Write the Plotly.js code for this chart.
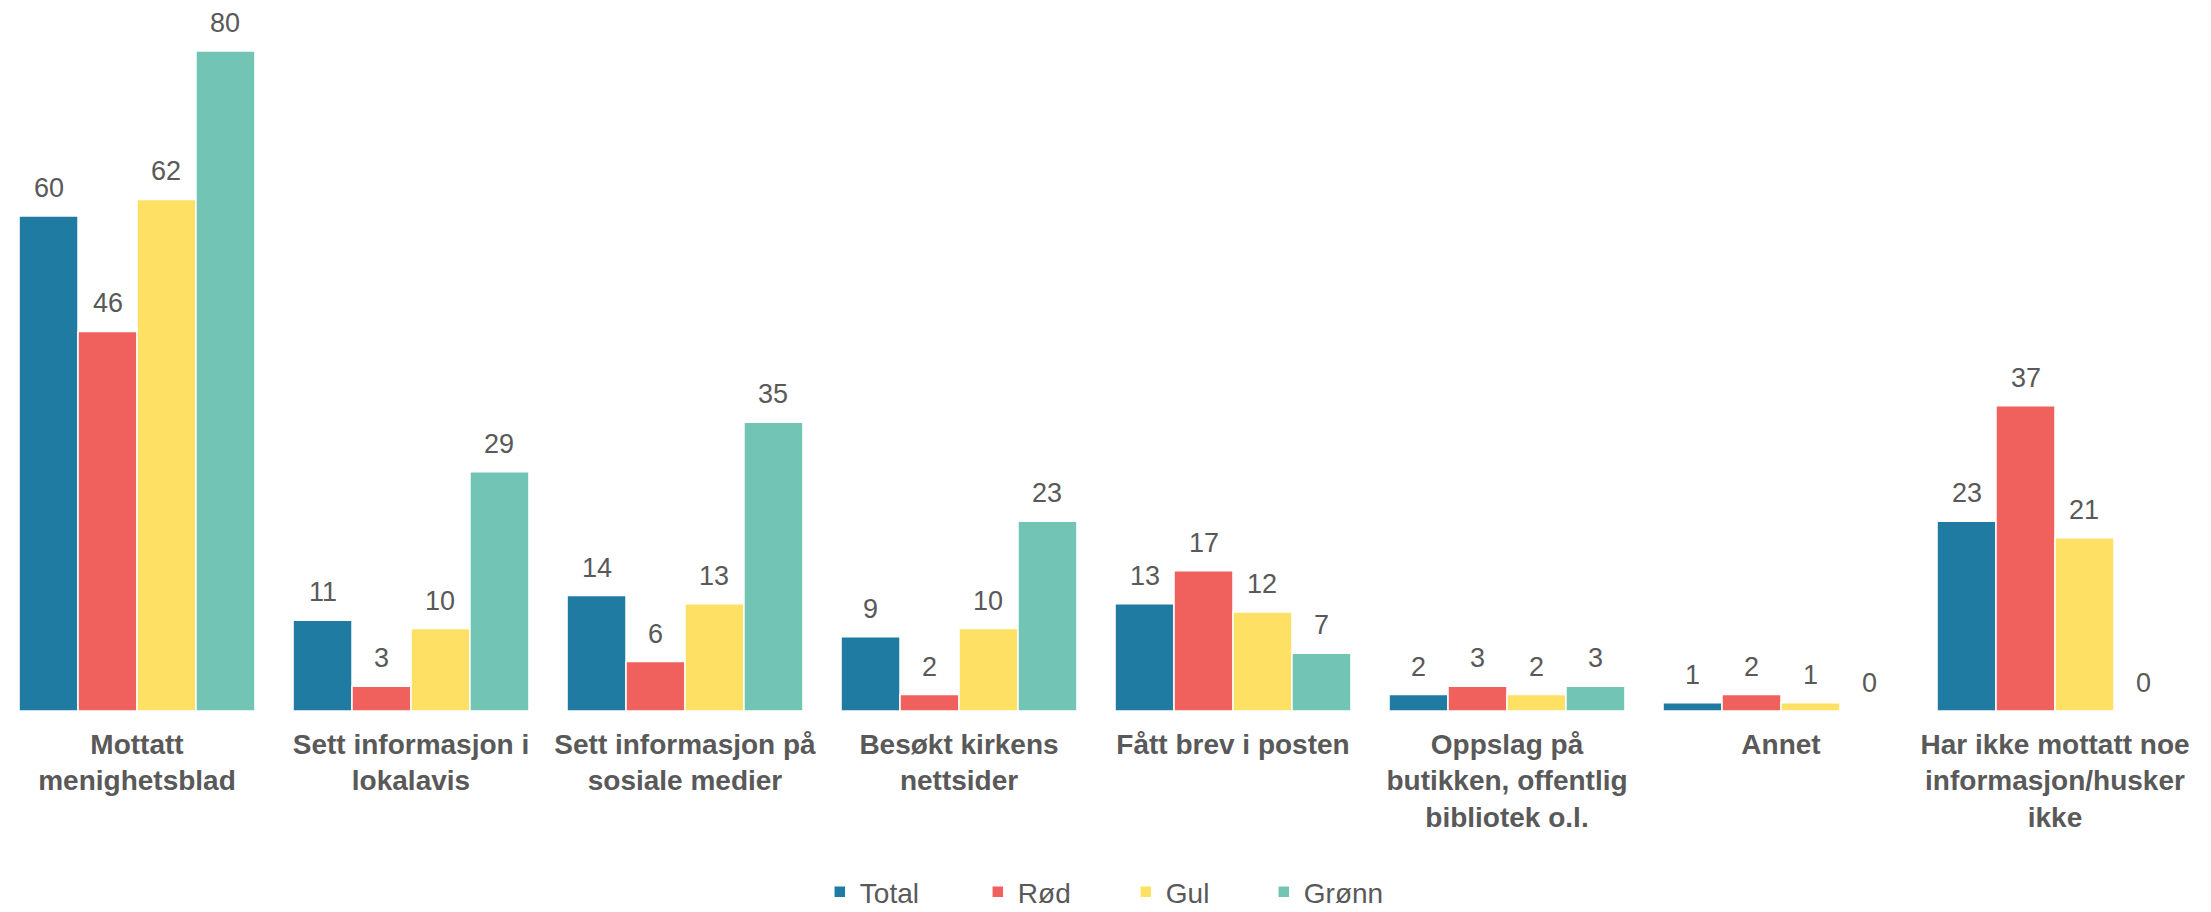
<!DOCTYPE html>
<html><head><meta charset="utf-8">
<script src="https://cdn.plot.ly/plotly-3.0.1.min.js"></script>
<style>html,body{margin:0;padding:0;background:#fff;}#chart{width:2211px;height:912px;}</style>
</head><body><div id="chart"></div>
<script>
const categories = [
  "Mottatt<br>menighetsblad",
  "Sett informasjon i<br>lokalavis",
  "Sett informasjon på<br>sosiale medier",
  "Besøkt kirkens<br>nettsider",
  "Fått brev i posten",
  "Oppslag på<br>butikken, offentlig<br>bibliotek o.l.",
  "Annet",
  "Har ikke mottatt noe<br>informasjon/husker<br>ikke"
];
const seriesNames = ["Total", "Rød", "Gul", "Grønn"];
const total = [60, 11, 14, 9, 13, 2, 1, 23];
const rod   = [46, 3, 6, 2, 17, 3, 2, 37];
const gul   = [62, 10, 13, 10, 12, 2, 1, 21];
const gronn = [80, 29, 35, 23, 7, 3, 0, 0];
const colors = ["#1F7BA1", "#F0605C", "#FDE064", "#72C4B4"];
const legendWidths = [113, 103, 93, 90];

const values = [total, rod, gul, gronn];
const BARGAP = 0.139;
const nSeries = values.length;
const slot = (1 - BARGAP) / nSeries;

const traces = values.map((v, i) => ({
  type: "bar",
  name: seriesNames[i],
  x: categories.map((c, j) => j),
  y: v,
  marker: {color: colors[i], line: {color: "#ffffff", width: 1.5}},
  legendwidth: legendWidths[i],
  hoverinfo: "none"
}));

const annotations = [];
values.forEach((v, i) => {
  v.forEach((val, j) => {
    annotations.push({
      x: j - (1 - BARGAP) / 2 + (i + 0.5) * slot,
      y: val,
      xref: "x", yref: "y",
      text: String(val),
      showarrow: false,
      xanchor: "center", yanchor: "bottom",
      yshift: 11,
      font: {family: "Liberation Sans, Arial, sans-serif", size: 27, color: "#595959"}
    });
  });
});

const layout = {
  width: 2211, height: 912,
  margin: {l: 0, r: 19, t: 0, b: 201, autoexpand: false},
  paper_bgcolor: "#ffffff", plot_bgcolor: "#ffffff",
  barmode: "group",
  bargap: BARGAP,
  bargroupgap: 0,
  showlegend: true,
  legend: {
    orientation: "h", xref: "paper", x: 0.374, xanchor: "left",
    yref: "container", y: 0.022, yanchor: "middle",
    font: {family: "Liberation Sans, Arial, sans-serif", size: 28, color: "#595959"},
    itemwidth: 30, traceorder: "normal"
  },
  annotations: annotations,
  xaxis: {
    type: "linear",
    range: [-0.5, categories.length - 0.5],
    tickmode: "array",
    tickvals: categories.map((c, j) => j),
    ticktext: categories,
    showline: false, showgrid: false, zeroline: false, ticks: "",
    automargin: false,
    tickfont: {family: "Liberation Sans, Arial, sans-serif", size: 28, color: "#595959", weight: "bold"},
    ticklabelstandoff: 14, tickangle: 0
  },
  yaxis: {
    range: [0, 86.18], visible: false, showgrid: false, zeroline: false, automargin: false
  }
};
Plotly.newPlot("chart", traces, layout, {displayModeBar: false, staticPlot: true});
</script></body></html>
